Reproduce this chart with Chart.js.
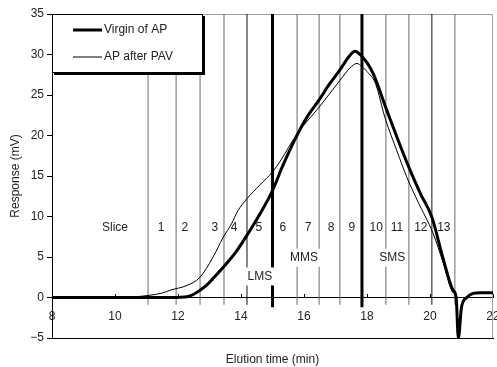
<!DOCTYPE html>
<html>
<head>
<meta charset="utf-8">
<script src="https://cdn.jsdelivr.net/npm/chart.js@4.4.0/dist/chart.umd.min.js"></script>
<style>
  html, body { margin: 0; padding: 0; background: #fff; }
  #wrap { width: 497px; height: 367px; position: relative; }
</style>
</head>
<body>
<div id="wrap"><canvas id="c"></canvas></div>
<script>
// elution time (min) and response (mV)
const virginTime = [8, 10, 11, 11.8, 12.29, 12.5, 12.7, 12.9, 13.1, 13.43, 13.87, 14.29, 14.6, 15.0, 15.33, 15.8, 16.1, 16.48, 16.8, 17.14, 17.4, 17.62, 17.78, 18.0, 18.2, 18.63, 19.0, 19.37, 19.7, 20.06, 20.41, 20.73, 20.83, 20.9, 21.0, 21.17, 21.37, 21.6, 22];
const virginResp = [0, 0, 0, 0, 0.1, 0.4, 0.9, 1.5, 2.3, 3.7, 5.8, 8.3, 10.3, 13.2, 16.3, 20.2, 22.3, 24.4, 26.3, 28.1, 29.6, 30.4, 30.0, 29.0, 27.6, 23.1, 19.3, 15.7, 12.8, 9.9, 4.9, 0.9, 0, -5, -1.2, 0, 0.5, 0.6, 0.6];

const pavTime = [8, 10, 10.5, 11.05, 11.5, 11.75, 12.29, 12.7, 13.1, 13.43, 13.7, 13.9, 14.19, 14.6, 15.0, 15.24, 15.78, 16.48, 17.14, 17.45, 17.68, 17.84, 18.0, 18.27, 18.57, 18.95, 19.27, 19.62, 20.1, 20.41, 20.73, 20.83, 20.9, 21.0, 21.17, 21.37, 21.6, 22];
const pavResp = [0, 0, 0.05, 0.25, 0.55, 0.9, 1.5, 2.5, 4.9, 7.4, 9.1, 10.7, 12.2, 13.9, 15.5, 16.8, 20.2, 23.5, 26.8, 28.3, 28.9, 28.5, 27.9, 26.4, 22.2, 18.1, 14.8, 11.8, 7.9, 4.4, 0.6, 0, -5, -1.2, 0, 0.5, 0.6, 0.6];

// slice boundaries (min); the two bold ones split LMS / MMS / SMS
const sliceCuts = [11.05, 11.94, 12.7, 13.46, 15.78, 16.48, 17.14, 18.6, 19.33, 20.79];
const darkCuts = [14.19, 20.06];
const regionCuts = [15.0, 17.84];

const sliceNames = ['1', '2', '3', '4', '5', '6', '7', '8', '9', '10', '11', '12', '13'];
const sliceNameTime = [11.46, 12.22, 13.17, 13.78, 14.57, 15.33, 16.13, 16.86, 17.52, 18.29, 18.95, 19.71, 20.44];
const sliceNameY = 8.6;

const regionNames = ['LMS', 'MMS', 'SMS'];
const regionTime = [14.6, 16.0, 18.8];
const regionY = [2.6, 4.9, 4.9];

const FONT = '"Liberation Sans", Arial, sans-serif';

function zip(xs, ys) {
  return xs.map((x, i) => ({x: x, y: ys[i]}));
}
function cutLines(cuts, bottom) {
  const pts = [];
  cuts.forEach(t => {
    pts.push({x: t, y: bottom}, {x: t, y: 35}, {x: t, y: null});
  });
  return pts;
}

const decor = {
  id: 'decor',
  beforeDatasetsDraw(chart) {
    const ctx = chart.ctx, a = chart.chartArea;
    ctx.save();
    ctx.strokeStyle = '#a0a0a0';
    ctx.lineWidth = 1;
    ctx.beginPath();
    ctx.moveTo(a.left, a.top + 0.5);
    ctx.lineTo(a.right - 0.5, a.top + 0.5);
    ctx.lineTo(a.right - 0.5, a.bottom);
    ctx.stroke();
    ctx.restore();
  },
  afterDatasetsDraw(chart) {
    const ctx = chart.ctx, xs = chart.scales.x, ys = chart.scales.y;
    ctx.save();
    ctx.font = '12px ' + FONT;
    ctx.fillStyle = '#222';
    ctx.textAlign = 'center';
    ctx.textBaseline = 'middle';

    // little tick marks on the zero axis, pointing up
    const y0 = Math.round(ys.getPixelForValue(0));
    ctx.strokeStyle = '#000';
    ctx.lineWidth = 1;
    xs.ticks.forEach(t => {
      const px = Math.round(xs.getPixelForValue(t.value)) + 0.5;
      ctx.beginPath();
      ctx.moveTo(px, y0);
      ctx.lineTo(px, y0 - 4);
      ctx.stroke();
    });

    ctx.fillText('Slice', xs.getPixelForValue(10.0), ys.getPixelForValue(sliceNameY));
    sliceNames.forEach((s, i) => {
      ctx.fillText(s, xs.getPixelForValue(sliceNameTime[i]), ys.getPixelForValue(sliceNameY));
    });
    regionNames.forEach((s, i) => {
      const px = xs.getPixelForValue(regionTime[i]), py = ys.getPixelForValue(regionY[i]);
      const w = ctx.measureText(s).width + 4;
      ctx.fillStyle = '#fff';
      ctx.fillRect(px - w / 2, py - 9, w, 18);
      ctx.fillStyle = '#222';
      ctx.fillText(s, px, py);
    });

    // legend box in the top left corner
    const a = chart.chartArea;
    const bx = a.left, by = a.top, bw = 151, bh = 59;
    ctx.fillStyle = '#000';
    ctx.fillRect(bx + 2, by + 2, bw, bh);
    ctx.fillStyle = '#fff';
    ctx.fillRect(bx, by, bw, bh);
    ctx.strokeStyle = '#000';
    ctx.strokeRect(bx + 0.5, by + 0.5, bw - 1, bh - 1);
    ctx.textAlign = 'left';
    ctx.fillStyle = '#222';
    [0, 1].forEach(i => {
      const ds = chart.data.datasets[i];
      const ly = by + 16 + i * 27;
      ctx.strokeStyle = ds.borderColor;
      ctx.lineWidth = ds.borderWidth;
      ctx.beginPath();
      ctx.moveTo(bx + 21, ly);
      ctx.lineTo(bx + 50, ly);
      ctx.stroke();
      ctx.fillText(ds.label, bx + 52, ly);
    });
    ctx.restore();
  }
};

new Chart(document.getElementById('c'), {
  type: 'line',
  data: {
    datasets: [
      {label: 'Virgin of AP', data: zip(virginTime, virginResp), borderColor: '#000', borderWidth: 3, cubicInterpolationMode: 'monotone'},
      {label: 'AP after PAV', data: zip(pavTime, pavResp), borderColor: '#000', borderWidth: 1, cubicInterpolationMode: 'monotone'},
      {label: 'regions', data: cutLines(regionCuts, -1.2), borderColor: '#000', borderWidth: 3, spanGaps: false},
      {label: 'dark slices', data: cutLines(darkCuts, -0.9), borderColor: '#111', borderWidth: 1, spanGaps: false},
      {label: 'slices', data: cutLines(sliceCuts, -0.9), borderColor: '#6a6a6a', borderWidth: 1, spanGaps: false}
    ]
  },
  options: {
    responsive: true,
    maintainAspectRatio: false,
    animation: false,
    events: [],
    elements: {point: {radius: 0}},
    layout: {padding: {top: 14, right: 4, left: 0, bottom: 0}},
    plugins: {
      legend: {display: false},
      tooltip: {enabled: false}
    },
    scales: {
      x: {
        type: 'linear',
        position: {y: 0},
        min: 8, max: 22,
        ticks: {stepSize: 2, color: '#222', font: {family: FONT, size: 12}, padding: 12, maxRotation: 0},
        grid: {drawOnChartArea: false, drawTicks: false},
        border: {color: '#000', width: 1},
        afterFit: s => { s.paddingLeft = 0; s.paddingRight = 0; }
      },
      x2: {
        type: 'linear',
        position: 'bottom',
        min: 8, max: 22,
        ticks: {display: false},
        grid: {display: false, drawTicks: false},
        border: {color: '#000', width: 1},
        title: {display: true, text: 'Elution time (min)', color: '#222', font: {family: FONT, size: 12}, padding: 0},
        afterFit: s => { s.height = 29; s.paddingLeft = 0; s.paddingRight = 0; }
      },
      y: {
        min: -5, max: 35,
        ticks: {stepSize: 5, color: '#222', font: {family: FONT, size: 12}, padding: 3,
          callback: v => String(v).replace('-', '\u2212')},
        grid: {drawOnChartArea: false, tickLength: 5, tickColor: '#000'},
        border: {color: '#000', width: 1},
        title: {display: true, text: 'Response (mV)', color: '#222', font: {family: FONT, size: 12}, padding: {top: 8, bottom: 0}},
        afterFit: s => { s.width = 52; s.paddingTop = 0; s.paddingBottom = 0; }
      }
    }
  },
  plugins: [decor]
});
</script>
</body>
</html>
